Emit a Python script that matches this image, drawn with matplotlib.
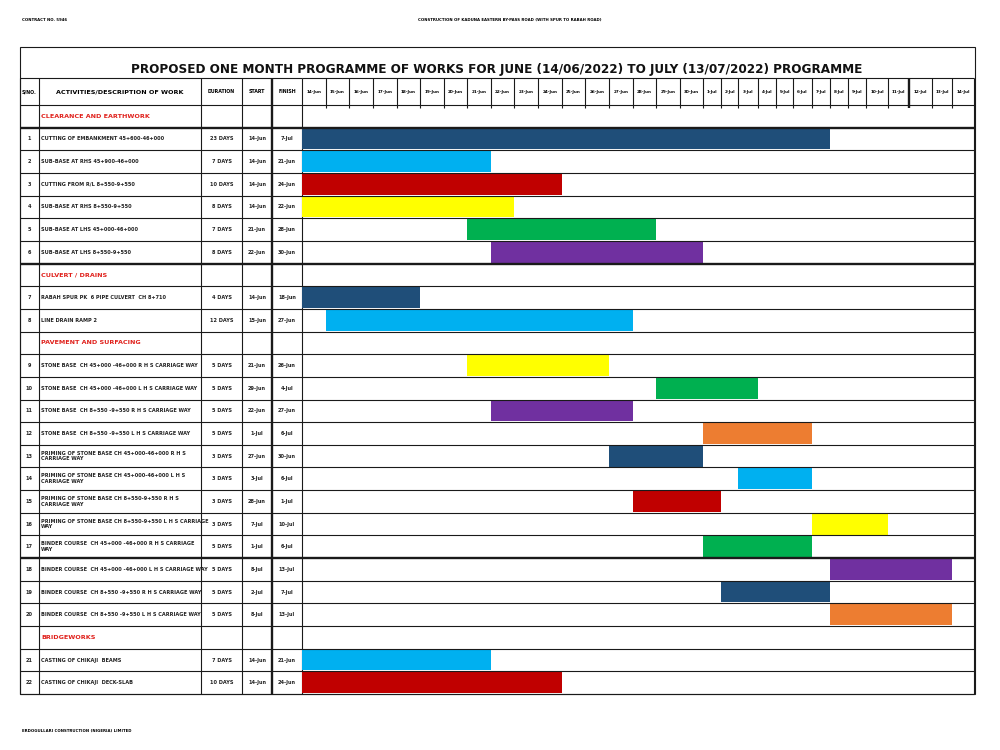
import matplotlib.pyplot as plt
import numpy as np
from matplotlib.patches import Rectangle

# ---- data ----
day_labels = [f"{d}-Jun" for d in range(14, 31)] + [f"{d}-Jul" for d in range(1, 15)]

categories = ["CLEARANCE AND EARTHWORK", "CULVERT / DRAINS",
              "PAVEMENT AND SURFACING", "BRIDGEWORKS"]
cat_before = [1, 7, 9, 21]   # activity number that each heading sits above

activities = [
    "CUTTING OF EMBANKMENT 45+600-46+000",
    "SUB-BASE AT RHS 45+900-46+000",
    "CUTTING FROM R/L 8+550-9+550",
    "SUB-BASE AT RHS 8+550-9+550",
    "SUB-BASE AT LHS 45+000-46+000",
    "SUB-BASE AT LHS 8+550-9+550",
    "RABAH SPUR PK  6 PIPE CULVERT  CH 8+710",
    "LINE DRAIN RAMP 2",
    "STONE BASE  CH 45+000 -46+000 R H S CARRIAGE WAY",
    "STONE BASE  CH 45+000 -46+000 L H S CARRIAGE WAY",
    "STONE BASE  CH 8+550 -9+550 R H S CARRIAGE WAY",
    "STONE BASE  CH 8+550 -9+550 L H S CARRIAGE WAY",
    "PRIMING OF STONE BASE CH 45+000-46+000 R H S\nCARRIAGE WAY",
    "PRIMING OF STONE BASE CH 45+000-46+000 L H S\nCARRIAGE WAY",
    "PRIMING OF STONE BASE CH 8+550-9+550 R H S\nCARRIAGE WAY",
    "PRIMING OF STONE BASE CH 8+550-9+550 L H S CARRIAGE\nWAY",
    "BINDER COURSE  CH 45+000 -46+000 R H S CARRIAGE\nWAY",
    "BINDER COURSE  CH 45+000 -46+000 L H S CARRIAGE WAY",
    "BINDER COURSE  CH 8+550 -9+550 R H S CARRIAGE WAY",
    "BINDER COURSE  CH 8+550 -9+550 L H S CARRIAGE WAY",
    "CASTING OF CHIKAJI  BEAMS",
    "CASTING OF CHIKAJI  DECK-SLAB",
]
durations = ["23 DAYS", "7 DAYS", "10 DAYS", "8 DAYS", "7 DAYS", "8 DAYS",
             "4 DAYS", "12 DAYS", "5 DAYS", "5 DAYS", "5 DAYS", "5 DAYS",
             "3 DAYS", "3 DAYS", "3 DAYS", "3 DAYS", "5 DAYS", "5 DAYS",
             "5 DAYS", "5 DAYS", "7 DAYS", "10 DAYS"]
starts = ["14-Jun", "14-Jun", "14-Jun", "14-Jun", "21-Jun", "22-Jun",
          "14-Jun", "15-Jun", "21-Jun", "29-Jun", "22-Jun", "1-Jul",
          "27-Jun", "3-Jul", "28-Jun", "7-Jul", "1-Jul", "8-Jul",
          "2-Jul", "8-Jul", "14-Jun", "14-Jun"]
finishes = ["7-Jul", "21-Jun", "24-Jun", "22-Jun", "28-Jun", "30-Jun",
            "18-Jun", "27-Jun", "26-Jun", "4-Jul", "27-Jun", "6-Jul",
            "30-Jun", "6-Jul", "1-Jul", "10-Jul", "6-Jul", "13-Jul",
            "7-Jul", "13-Jul", "21-Jun", "24-Jun"]
# last day shaded on the chart (as drawn)
bar_to = list(finishes)
bar_to[9] = "3-Jul"

DBLUE, LBLUE, RED, YEL = "#1F4E79", "#00B0F0", "#C00000", "#FFFF00"
GRN, PUR, ORG = "#00B050", "#7030A0", "#ED7D31"
bar_colors = [DBLUE, LBLUE, RED, YEL, GRN, PUR, DBLUE, LBLUE, YEL, GRN, PUR,
              ORG, DBLUE, LBLUE, RED, YEL, GRN, PUR, DBLUE, ORG, LBLUE, RED]

# ---- layout (pixels of a 1000x750 figure) ----
W, H = 1000, 750
T_LEFT, T_RIGHT, T_TOP, HDR_TOP, BODY_TOP, T_BOT = 20, 975, 47, 78, 105, 694
LEFT_COLS = [20, 38.5, 201, 242, 272, 302]
COL_EDGES_PX = [302, 326, 349, 373, 397, 420, 444, 467, 491, 514, 538, 562,
                585, 609, 633, 656, 680, 703, 721, 738, 758, 776, 793, 812,
                830, 848, 866, 888, 909, 932, 952, 974]
n_rows = len(activities) + len(categories)
row_h = (T_BOT - BODY_TOP) / n_rows
hdr = (BODY_TOP - HDR_TOP) / row_h
LC = "#1a1a1a"
LW, LW_THICK = 0.8, 1.7
FONT = "DejaVu Sans"

# build row list
rows = []
for i in range(len(activities)):
    if i + 1 in cat_before:
        rows.append(("cat", categories[cat_before.index(i + 1)]))
    rows.append(("act", i))
thick_rows = [1, 7, 20]   # heavier rule above these row indices

fig = plt.figure(figsize=(10, 7.5), dpi=100)
bg = fig.add_axes([0, 0, 1, 1])
bg.set_xlim(0, W)
bg.set_ylim(H, 0)
bg.axis("off")
bg.add_patch(Rectangle((T_LEFT, T_TOP), T_RIGHT - T_LEFT, T_BOT - T_TOP,
                       fill=False, ec=LC, lw=LW))
bg.text(497, 70, "PROPOSED ONE MONTH PROGRAMME OF WORKS FOR JUNE (14/06/2022) "
        "TO JULY (13/07/2022) PROGRAMME", ha="center", va="center",
        fontsize=9.6, fontweight="bold", family=FONT, fontstretch="condensed",
        color="#111")
bg.text(22, 20, "CONTRACT NO. 5946", fontsize=2.8, fontweight="bold",
        va="center", family=FONT)
bg.text(418, 20, "CONSTRUCTION OF KADUNA EASTERN BY-PASS ROAD (WITH SPUR TO RABAH ROAD)",
        fontsize=2.8, fontweight="bold", va="center", family=FONT)
bg.text(22, 731, "ERDOGULLARI CONSTRUCTION (NIGERIA) LIMITED", fontsize=2.8,
        fontweight="bold", va="center", family=FONT)

# ---- left table ----
ax_pos = lambda x0, x1: [x0 / W, (H - T_BOT) / H, (x1 - x0) / W, (T_BOT - HDR_TOP) / H]
lt = fig.add_axes(ax_pos(LEFT_COLS[0], LEFT_COLS[-1]))
lt.set_xlim(LEFT_COLS[0], LEFT_COLS[-1])
lt.set_ylim(n_rows, -hdr)
lt.axis("off")

gx = fig.add_axes(ax_pos(COL_EDGES_PX[0], COL_EDGES_PX[-1]))
edges = np.array(COL_EDGES_PX, float)
idx = np.arange(len(edges), dtype=float)
gx.set_xscale("function", functions=(lambda x: np.interp(x, idx, edges),
                                     lambda p: np.interp(p, edges, idx)))
gx.set_xlim(0, len(day_labels))
gx.set_ylim(n_rows, -hdr)
gx.axis("off")

# horizontal rules
for y in [-hdr] + list(range(n_rows + 1)):
    lw = LW_THICK if y in thick_rows else LW
    lt.hlines(y, LEFT_COLS[0], LEFT_COLS[-1], color=LC, lw=lw, clip_on=False)
    gx.hlines(y, 0, len(day_labels), color=LC, lw=lw, clip_on=False)

# vertical rules of left part
for x in LEFT_COLS:
    lw = LW_THICK if x == 272 else LW
    lt.vlines(x, -hdr, n_rows, color=LC, lw=lw, clip_on=False)
gx.vlines(len(day_labels), -hdr, n_rows, color=LC, lw=LW, clip_on=False)

# header
hy = -hdr / 2
hkw = dict(fontsize=3.4, fontweight="bold", va="center", ha="center", family=FONT)
lt.text(29.2, hy, "S/NO.", **hkw)
lt.text(120, hy, "ACTIVITIES/DESCRIPTION OF WORK", **{**hkw, "fontsize": 4.6})
lt.text(221.5, hy, "DURATION", **hkw)
lt.text(257, hy, "START", **hkw)
lt.text(287, hy, "FINISH", **hkw)
for i, lab in enumerate(day_labels):
    gx.text(i + 0.5, hy, lab, fontsize=3.0, fontweight="bold", ha="center",
            va="center", family=FONT)
    if i > 0:
        lw = LW_THICK if lab == "12-Jul" else LW
        gx.vlines(i, -hdr, 0.12, color=LC, lw=lw)

# body
tkw = dict(fontsize=3.6, fontweight="bold", va="center", family=FONT, color="#222")
for r, (kind, val) in enumerate(rows):
    yc = r + 0.5
    if kind == "cat":
        lt.text(41, yc, val, fontsize=4.6, fontweight="bold", va="center",
                family=FONT, color="#E0201B")
        continue
    i = val
    lt.text(29.2, yc, str(i + 1), ha="center", **tkw)
    lt.text(41, yc, activities[i], ha="left", linespacing=1.15, **tkw)
    lt.text(221.5, yc, durations[i], ha="center", **tkw)
    lt.text(257, yc, starts[i], ha="center", **tkw)
    lt.text(287, yc, finishes[i], ha="center", **tkw)
    s = day_labels.index(starts[i])
    e = day_labels.index(bar_to[i]) + 1
    gx.barh(yc, e - s, left=s, height=0.92, color=bar_colors[i], edgecolor="none")

fig.savefig("out.png", dpi=100)
